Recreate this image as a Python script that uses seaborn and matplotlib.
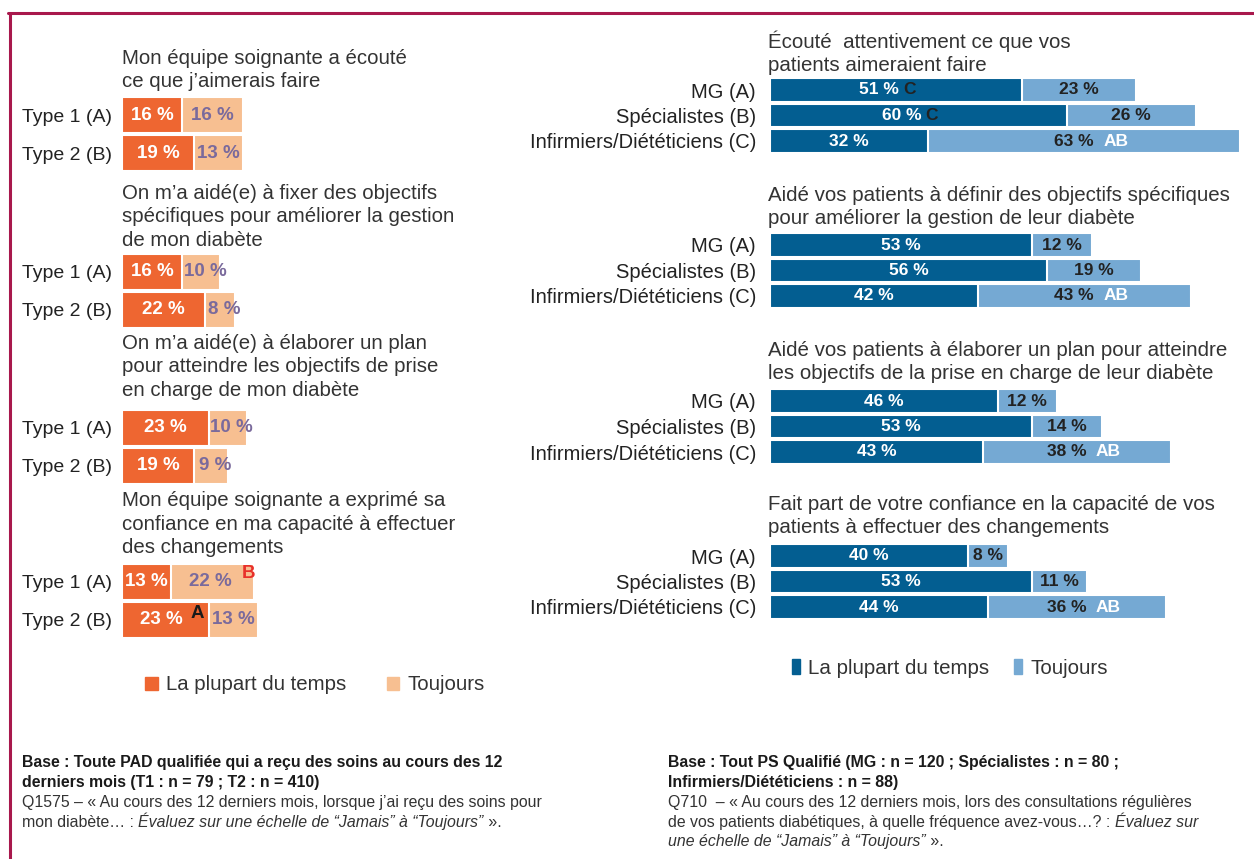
import matplotlib
matplotlib.use("Agg")
import matplotlib.pyplot as plt
import seaborn as sns
import pandas as pd
from matplotlib.patches import Patch
from matplotlib.lines import Line2D

W, H = 1254, 859

# ---- données : patients (PAD) ----
pad_groupes = ["Type 1 (A)", "Type 2 (B)"]
pad_titres = [
    "Mon équipe soignante a écouté\nce que j’aimerais faire",
    "On m’a aidé(e) à fixer des objectifs\nspécifiques pour améliorer la gestion\nde mon diabète",
    "On m’a aidé(e) à élaborer un plan\npour atteindre les objectifs de prise\nen charge de mon diabète",
    "Mon équipe soignante a exprimé sa\nconfiance en ma capacité à effectuer\ndes changements",
]
pad_plupart = [[16, 19], [16, 22], [23, 19], [13, 23]]
pad_toujours = [[16, 13], [10, 8], [10, 9], [22, 13]]
pad_sig_plupart = [["", ""], ["", ""], ["", ""], ["", "A"]]
pad_sig_toujours = [["", ""], ["", ""], ["", ""], ["B", ""]]

# ---- données : professionnels de santé (PS) ----
ps_groupes = ["MG (A)", "Spécialistes (B)", "Infirmiers/Diététiciens (C)"]
ps_titres = [
    "Écouté  attentivement ce que vos\npatients aimeraient faire",
    "Aidé vos patients à définir des objectifs spécifiques\npour améliorer la gestion de leur diabète",
    "Aidé vos patients à élaborer un plan pour atteindre\nles objectifs de la prise en charge de leur diabète",
    "Fait part de votre confiance en la capacité de vos\npatients à effectuer des changements",
]
ps_plupart = [[51, 60, 32], [53, 56, 42], [46, 53, 43], [40, 53, 44]]
ps_toujours = [[23, 26, 63], [12, 19, 43], [12, 14, 38], [8, 11, 36]]
ps_sig_plupart = [["C", "C", ""], ["", "", ""], ["", "", ""], ["", "", ""]]
ps_sig_toujours = [["", "", "AB"], ["", "", "AB"], ["", "", "AB"], ["", "", "AB"]]

legende = ["La plupart du temps", "Toujours"]

ORANGE, ORANGE_CLAIR = "#EE6631", "#F7BF91"
BLEU, BLEU_CLAIR = "#035E91", "#75A9D3"
VIOLET = "#7A6A9C"
BORDEAUX = "#A8184C"

sns.set_theme(style="white")
plt.rcParams["font.family"] = ["Liberation Sans", "DejaVu Sans"]


def fx(x):
    return x / W


def fy(y):
    return 1 - y / H


def add_ax(fig, left, top, width, height):
    return fig.add_axes([fx(left), fy(top + height), width / W, height / H])


def draw_group(ax, cats, plupart, toujours, dark, light, xmax, width, fs, tick_pad):
    df = pd.DataFrame({"groupe": cats, "plupart": plupart, "toujours": toujours})
    df["total"] = df["plupart"] + df["toujours"]
    # barre totale (claire) puis la part "la plupart du temps" par-dessus
    sns.barplot(data=df, y="groupe", x="total", color=light, saturation=1,
                width=width, edgecolor="white", linewidth=1.5, ax=ax)
    sns.barplot(data=df, y="groupe", x="plupart", color=dark, saturation=1,
                width=width, edgecolor="white", linewidth=1.5, ax=ax)
    ax.set_xlim(0, xmax)
    ax.set_ylim(len(cats) - 0.5, -0.5)
    ax.set_xlabel("")
    ax.set_ylabel("")
    ax.set_xticks([])
    for s in ax.spines.values():
        s.set_visible(False)
    ax.tick_params(axis="y", length=0, pad=tick_pad, labelsize=fs, labelcolor="#222222")
    ax.patch.set_alpha(0)
    return df


fig = plt.figure(figsize=(W / 100, H / 100), dpi=100)

# cadre
fig.add_artist(Line2D([fx(8), 1], [fy(13), fy(13)], color=BORDEAUX, lw=2.2))
fig.add_artist(Line2D([fx(10), fx(10)], [fy(13), 0], color=BORDEAUX, lw=2.2))

# ---- panneau gauche ----
pad_centres = [115, 272, 428, 582]
pad_titre_y = [70, 217, 367, 524]
for g in range(4):
    ax = add_ax(fig, 122, pad_centres[g] - 19, 378, 76)
    df = draw_group(ax, pad_groupes, pad_plupart[g], pad_toujours[g], ORANGE, ORANGE_CLAIR,
                    100, 0.95, 14, 7)
    for i, r in df.iterrows():
        p, t = r["plupart"], r["toujours"]
        sp, st = pad_sig_plupart[g][i], pad_sig_toujours[g][i]
        ax.annotate(f"{p} %", xy=(p / 2, i), xytext=(-4 if sp else 0, 0), textcoords="offset pixels",
                    ha="center", va="center", color="white", fontweight="bold", fontsize=13.5)
        if sp:
            ax.annotate(sp, xy=(p / 2, i), xytext=(25, 7), textcoords="offset pixels",
                        ha="left", va="center", color="#1a1a1a", fontweight="bold", fontsize=13.5)
        # les petites étiquettes débordent légèrement à droite
        dx = -2 if st else (4 if t < 12 else 0)
        ax.annotate(f"{t} %", xy=(p + t / 2, i), xytext=(dx, 0), textcoords="offset pixels",
                    ha="center", va="center", color=VIOLET, fontweight="bold", fontsize=13.5)
        if st:
            ax.annotate(st, xy=(p + t / 2, i), xytext=(29, 9), textcoords="offset pixels",
                        ha="left", va="center", color="#E8302A", fontweight="bold", fontsize=13.5)
    fig.text(fx(122), fy(pad_titre_y[g]), pad_titres[g], ha="left", va="center",
             fontsize=14.7, color="#333333", linespacing=1.31)

fig.legend(handles=[Patch(color=ORANGE), Patch(color=ORANGE_CLAIR)], labels=legende,
           loc="center left", bbox_to_anchor=(fx(127), fy(685)), ncol=2, frameon=False,
           handlelength=0.6, handleheight=0.6, handletextpad=0.4, columnspacing=2.0,
           fontsize=14.7, labelcolor="#333333")

# ---- panneau droit ----
ps_centres = [90, 245, 401, 556]
ps_titre_y = [53, 207, 362, 516]
for g in range(4):
    ax = add_ax(fig, 770, ps_centres[g] - 12.75, 475, 76.5)
    df = draw_group(ax, ps_groupes, ps_plupart[g], ps_toujours[g], BLEU, BLEU_CLAIR,
                    96, 0.94, 14.5, 10)
    for i, r in df.iterrows():
        p, t = r["plupart"], r["toujours"]
        sp, st = ps_sig_plupart[g][i], ps_sig_toujours[g][i]
        ax.annotate(f"{p} %", xy=(p / 2, i), xytext=(-17 if sp else 0, 0), textcoords="offset pixels",
                    ha="center", va="center", color="white", fontweight="bold", fontsize=12.5)
        if sp:
            ax.annotate(sp, xy=(p / 2, i), xytext=(7, 0), textcoords="offset pixels",
                        ha="left", va="center", color="#222222", fontweight="bold", fontsize=12.5)
        ax.annotate(f"{t} %", xy=(p + t / 2, i), xytext=(-10 if st else 0, 0), textcoords="offset pixels",
                    ha="center", va="center", color="#222222", fontweight="bold", fontsize=12.5)
        if st:
            ax.annotate(st, xy=(p + t / 2, i), xytext=(19, 0), textcoords="offset pixels",
                        ha="left", va="center", color="white", fontweight="bold", fontsize=12.5)
    fig.text(fx(768), fy(ps_titre_y[g]), ps_titres[g], ha="left", va="center",
             fontsize=14.8, color="#333333", linespacing=1.26)

fig.legend(handles=[Patch(color=BLEU), Patch(color=BLEU_CLAIR)], labels=legende,
           loc="center left", bbox_to_anchor=(fx(773), fy(668)), ncol=2, frameon=False,
           handlelength=0.4, handleheight=0.75, handletextpad=0.4, columnspacing=1.2,
           fontsize=14.8, labelcolor="#333333")

# ---- notes (alignées sur la ligne de base) ----
bg = fig.add_axes([0, 0, 1, 1])
bg.set_axis_off()
bg.patch.set_alpha(0)
FN = 11.4


def note(x, y, txt, **kw):
    return bg.text(fx(x), fy(y + 5), txt, fontsize=FN, va="baseline",
                   color=kw.pop("color", "#333333"), **kw)


def suite(prev, y, txt, **kw):
    return bg.annotate(txt, xy=(1, fy(y + 5)), xycoords=(prev, "figure fraction"),
                       fontsize=FN, va="baseline", ha="left", color="#333333", **kw)


note(22, 762, "Base : Toute PAD qualifiée qui a reçu des soins au cours des 12",
     fontweight="bold", color="#1a1a1a")
note(22, 782, "derniers mois (T1 : n = 79 ; T2 : n = 410)", fontweight="bold", color="#1a1a1a")
note(22, 802, "Q1575 – « Au cours des 12 derniers mois, lorsque j’ai reçu des soins pour")
t1 = note(22, 822, "mon diabète… : ")
t2 = suite(t1, 822, "Évaluez sur une échelle de “Jamais” à “Toujours”", fontstyle="italic")
suite(t2, 822, " ».")

note(668, 762, "Base : Tout PS Qualifié (MG : n = 120 ; Spécialistes : n = 80 ;",
     fontweight="bold", color="#1a1a1a")
note(668, 782, "Infirmiers/Diététiciens : n = 88)", fontweight="bold", color="#1a1a1a")
note(668, 802, "Q710  – « Au cours des 12 derniers mois, lors des consultations régulières")
t3 = note(668, 822, "de vos patients diabétiques, à quelle fréquence avez-vous…? : ")
suite(t3, 822, "Évaluez sur", fontstyle="italic")
t4 = note(668, 841, "une échelle de “Jamais” à “Toujours”", fontstyle="italic")
suite(t4, 841, " ».")

fig.savefig("out.png", dpi=100)
